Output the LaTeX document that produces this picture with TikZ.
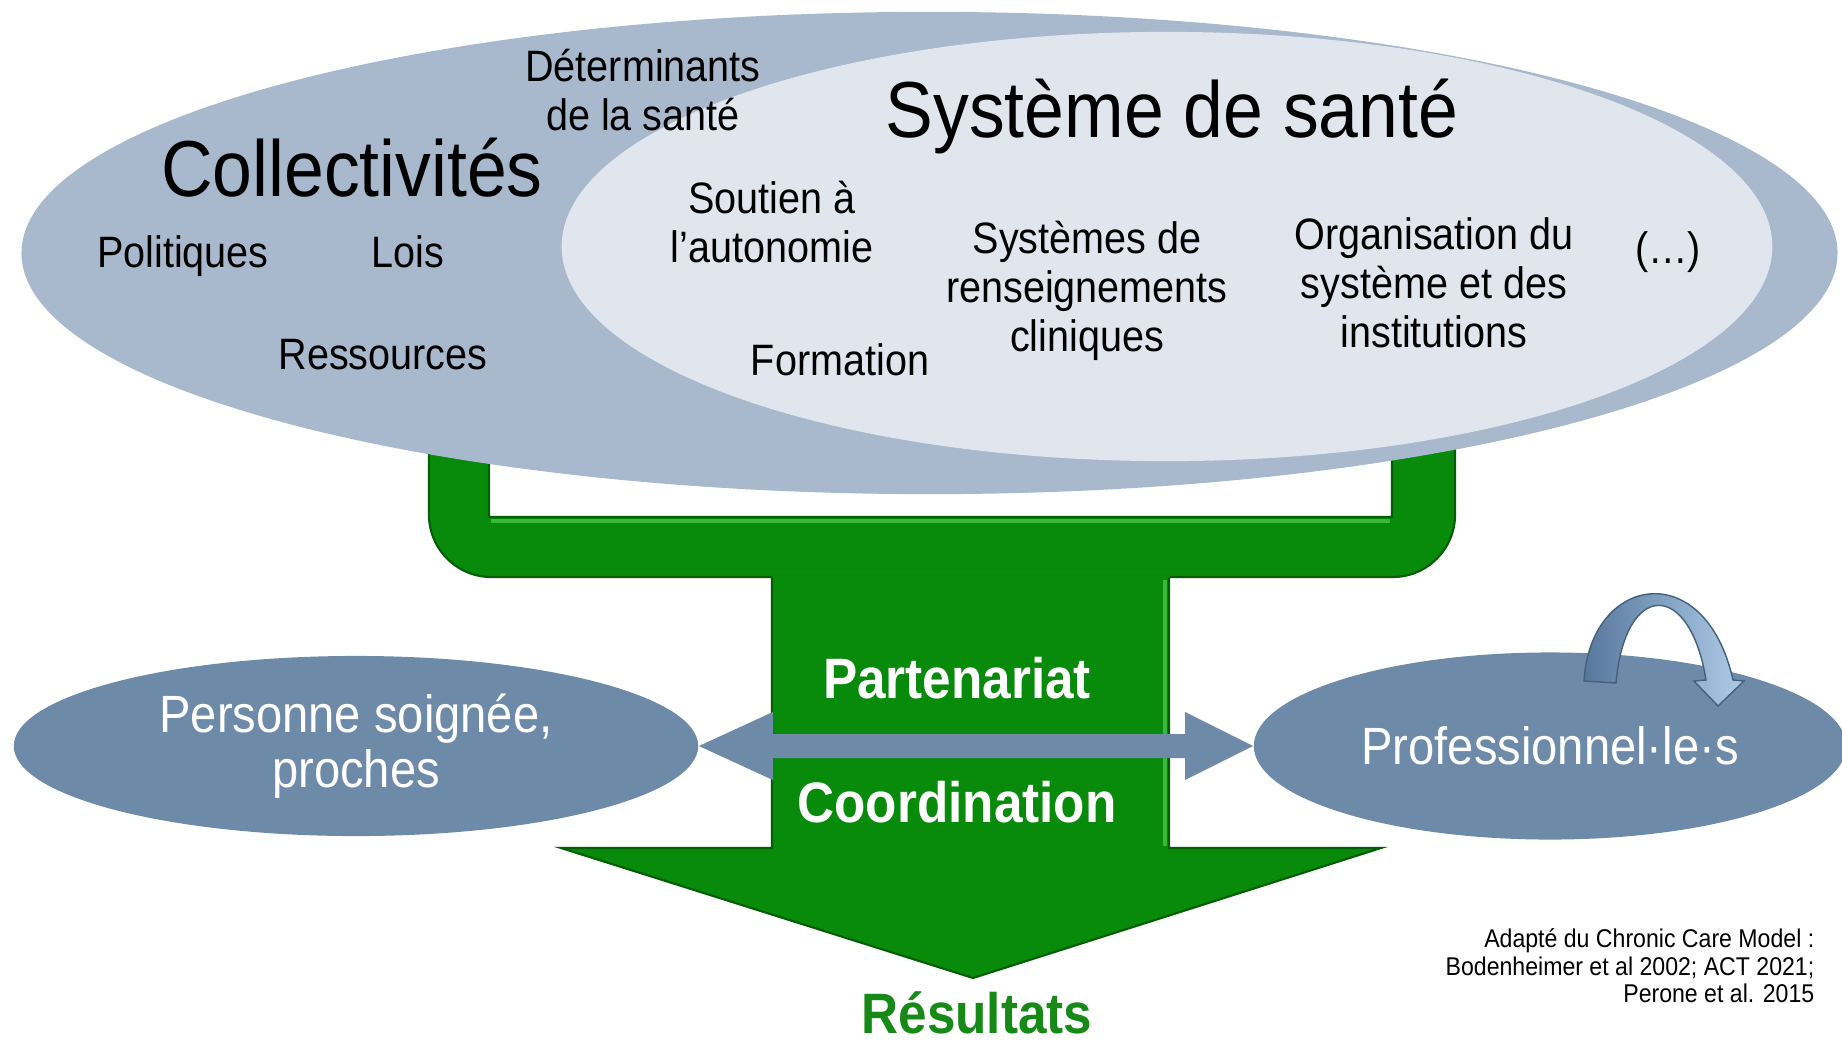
\documentclass[tikz,border=0pt]{standalone}
\usepackage{fontspec}
\setmainfont{Liberation Sans}[FakeStretch=0.9]
\usetikzlibrary{shapes.geometric,calc}

\definecolor{outerblue}{HTML}{A8B9CD}
\definecolor{innerblue}{HTML}{E1E6EE}
\definecolor{actorblue}{HTML}{6D8AA8}
\definecolor{ccmgreen}{HTML}{088A0B}
\definecolor{ccmdark}{HTML}{045E05}
\definecolor{ccmlight}{HTML}{3CB83C}
\definecolor{resgreen}{HTML}{168A16}
\definecolor{loopdark}{HTML}{56789C}
\definecolor{looplight}{HTML}{AFCBE8}

\tikzset{
  lbl/.style={inner sep=0pt, anchor=base, font=\fontsize{12.5pt}{13.9pt}\selectfont},
  mlbl/.style={inner sep=0pt, align=center, font=\fontsize{12.5pt}{13.9pt}\selectfont},
  titlelbl/.style={inner sep=0pt, anchor=base, font=\fontsize{22.6pt}{26pt}\selectfont},
  whitelbl/.style={inner sep=0pt, anchor=base, text=white, font=\bfseries\fontsize{16.2pt}{19pt}\selectfont},
  actor/.style={ellipse, fill=actorblue, inner sep=0pt, text=white, align=center, font=\fontsize{14.9pt}{15.6pt}\selectfont},
  greenpart/.style={fill=ccmgreen, draw=ccmdark, line width=0.6pt},
}

\begin{document}
\begin{tikzpicture}[x=0.01cm, y=-0.01cm]
\useasboundingbox (0,0) rectangle (1842,1045);
\fill[white] (0,0) rectangle (1842,1045);

% green bracket under the top ellipses
\draw[greenpart] (429,380) -- (429,515) .. controls (429,549) and (457,577) .. (491,577)
  -- (1393,577) .. controls (1427,577) and (1455,549) .. (1455,515)
  -- (1455,380) -- (1392,380) -- (1392,517) -- (489,517) -- (489,380) -- cycle;
\draw[ccmlight, line width=1.2pt] (491,521) -- (1390,521);

% stem and arrow head
\fill[ccmgreen] (772,576) -- (772,848) -- (561,848) -- (973,978) -- (1381,848) -- (1169,848) -- (1169,576) -- cycle;
\draw[ccmdark, line width=0.6pt] (772,577) -- (772,848) -- (561,848) -- (973,978) -- (1381,848) -- (1169,848) -- (1169,577);
\draw[ccmlight, line width=1.2pt] (1165,580) -- (1165,846);

% top ellipses
\node[ellipse, fill=outerblue, inner sep=0pt, minimum width=18.15cm, minimum height=4.82cm] (collect) at (929.5,253) {};
\node[ellipse, fill=innerblue, inner sep=0pt, minimum width=12.10cm, minimum height=4.29cm] (sante) at (1167,246.5) {};

\node[mlbl] (det) at (643,90) {Déterminants\\de la santé};
\node[titlelbl] (coll) at (352,196) {Collectivités};
\node[titlelbl] (sys) at (1172,137) {Système de santé};
\node[lbl] (pol) at (183,267) {Politiques};
\node[lbl] (lois) at (408,267) {Lois};
\node[lbl] (res) at (383,369) {Ressources};
\node[mlbl] (sout) at (772,222) {Soutien à\\l’autonomie};
\node[lbl] (form) at (840,375) {Formation};
\node[mlbl] (info) at (1087,291) {Systèmes de\\renseignements\\cliniques};
\node[mlbl] (orga) at (1434,283) {Organisation du\\système et des\\institutions};
\node[mlbl] (etc) at (1668,252) {(…)};

% actors
\node[actor, minimum width=6.84cm, minimum height=1.80cm] (person) at (356,746) {Personne soignée,\\proches};
\node[actor, minimum width=5.92cm, minimum height=1.87cm] (pro) at (1550,746) {Professionnel·le·s};

% double arrow between the actors
\fill[actorblue] (person.east) -- ++(74,-34) -- ++(0,22) -- ($(pro.west)+(-68,-12)$) -- ++(0,-22)
  -- (pro.west) -- ++(-68,34) -- ++(0,-22) -- ($(person.east)+(74,12)$) -- ++(0,22) -- cycle;

% loop over the professionals
\shadedraw[left color=loopdark, right color=looplight, draw=loopdark!80!black, line width=0.4pt]
  (1584,681) .. controls (1590,575) and (1705,555) .. (1733,680)
  -- (1744,681) -- (1718,706) -- (1694,681) -- (1706,680)
  .. controls (1690,580) and (1625,580) .. (1616,683) -- cycle;

\node[whitelbl] (part) at (957,698) {Partenariat};
\node[whitelbl] (coord) at (957,822) {Coordination};
\node[whitelbl, text=resgreen] (result) at (977,1033) {Résultats};

\node[inner sep=0pt, anchor=east, align=right, font=\fontsize{7.3pt}{7.85pt}\selectfont] (src) at (1815,966)
  {Adapté du Chronic Care Model :\\Bodenheimer et al 2002; ACT 2021;\\Perone et al. 2015};
\end{tikzpicture}
\end{document}
